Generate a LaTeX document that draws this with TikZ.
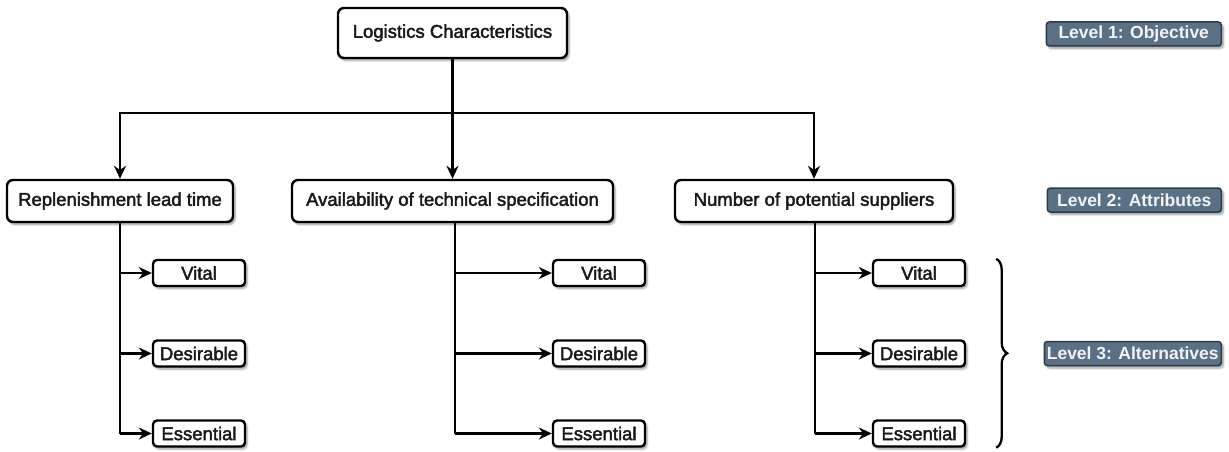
\documentclass[tikz,border=0pt]{standalone}
\usepackage{fontspec}
\setmainfont{Liberation Sans}
\newfontfamily\heavysans[FakeBold=2.2]{Liberation Sans}
\usetikzlibrary{positioning}
\usetikzlibrary{arrows.meta}
\usetikzlibrary{shadows.blur}
\usetikzlibrary{decorations.pathreplacing}

\definecolor{levelfill}{RGB}{91,112,133}
\definecolor{leveldraw}{RGB}{45,58,72}
\definecolor{leveltext}{RGB}{240,244,248}
\definecolor{boxtext}{RGB}{25,25,25}

\tikzset{
  boxshadow/.style={blur shadow={shadow xshift=2pt,shadow yshift=-2.5pt,shadow blur steps=6,shadow opacity=40}},
  mainbox/.style={draw=black,fill=white,line width=2.4pt,rounded corners=6pt,boxshadow,
    text=boxtext,font=\heavysans\fontsize{18.5}{21}\selectfont,inner sep=0pt},
  attrbox/.style={mainbox,minimum height=42pt},
  altbox/.style={mainbox,minimum width=92pt,minimum height=26pt,rounded corners=4pt},
  levelbox/.style={draw=leveldraw,fill=levelfill,line width=1.5pt,rounded corners=3pt,boxshadow,
    text=leveltext,font=\fontsize{17.5}{19}\bfseries\selectfont,minimum height=24pt,inner sep=0pt,anchor=east},
  link/.style={line width=2.6pt},
  arrowlink/.style={link,-{Stealth[length=13pt,width=12pt]}},
  bracket/.style={line width=2.3pt,decorate,decoration={brace,amplitude=11pt}}
}

\begin{document}
\begin{tikzpicture}[x=1pt,y=1pt,yscale=-1,xscale=1]
\useasboundingbox (0,0) rectangle (1229,452);

% Objective
\node [mainbox,minimum width=229pt,minimum height=50pt] (objective) at (452.5,33) {Logistics Characteristics};

% Attributes
\node [attrbox,minimum width=226pt] (leadtime) at (120,201) {Replenishment lead time};
\node [attrbox,minimum width=321pt] (techspec) at (452.5,201) {Availability of technical specification};
\node [attrbox,minimum width=278pt] (suppliers) at (814,201) {Number of potential suppliers};

% Alternatives
\node [altbox] (vitalA) at (199,273) {Vital};
\node [altbox] (desirableA) at (199,353.5) {Desirable};
\node [altbox] (essentialA) at (199,433.5) {Essential};
\node [altbox] (vitalB) at (599,273) {Vital};
\node [altbox] (desirableB) at (599,353.5) {Desirable};
\node [altbox] (essentialB) at (599,433.5) {Essential};
\node [altbox] (vitalC) at (919,273) {Vital};
\node [altbox] (desirableC) at (919,353.5) {Desirable};
\node [altbox] (essentialC) at (919,433.5) {Essential};

% Level labels
\node [levelbox,minimum width=175pt] (levelone) at (1222,34) {Level 1: Objective};
\node [levelbox,minimum width=174pt] (leveltwo) at (1222,200) {Level 2: Attributes};
\node [levelbox,minimum width=177pt] (levelthree) at (1222,353.5) {Level 3: Alternatives};

% Objective to attributes
\coordinate (split) at (452.5,113);
\draw [link] (objective.south) -- (split);
\draw [arrowlink] (split) -| (leadtime.north);
\draw [arrowlink] (split) -- (techspec.north);
\draw [arrowlink] (split) -| (suppliers.north);

% Attributes to alternatives
\coordinate (stemA) at (120,0);
\coordinate (stemB) at (455,0);
\coordinate (stemC) at (815,0);
\draw [link] (leadtime.south -| stemA) -- (stemA |- essentialA);
\draw [link] (techspec.south -| stemB) -- (stemB |- essentialB);
\draw [link] (suppliers.south -| stemC) -- (stemC |- essentialC);
\foreach \alt in {vital,desirable,essential}{
  \draw [arrowlink] (stemA |- \alt A) -- (\alt A.west);
  \draw [arrowlink] (stemB |- \alt B) -- (\alt B.west);
  \draw [arrowlink] (stemC |- \alt C) -- (\alt C.west);
}

% Brace
\draw [bracket] ([xshift=30pt]vitalC.north east) -- ([xshift=30pt]essentialC.south east);

\end{tikzpicture}
\end{document}
